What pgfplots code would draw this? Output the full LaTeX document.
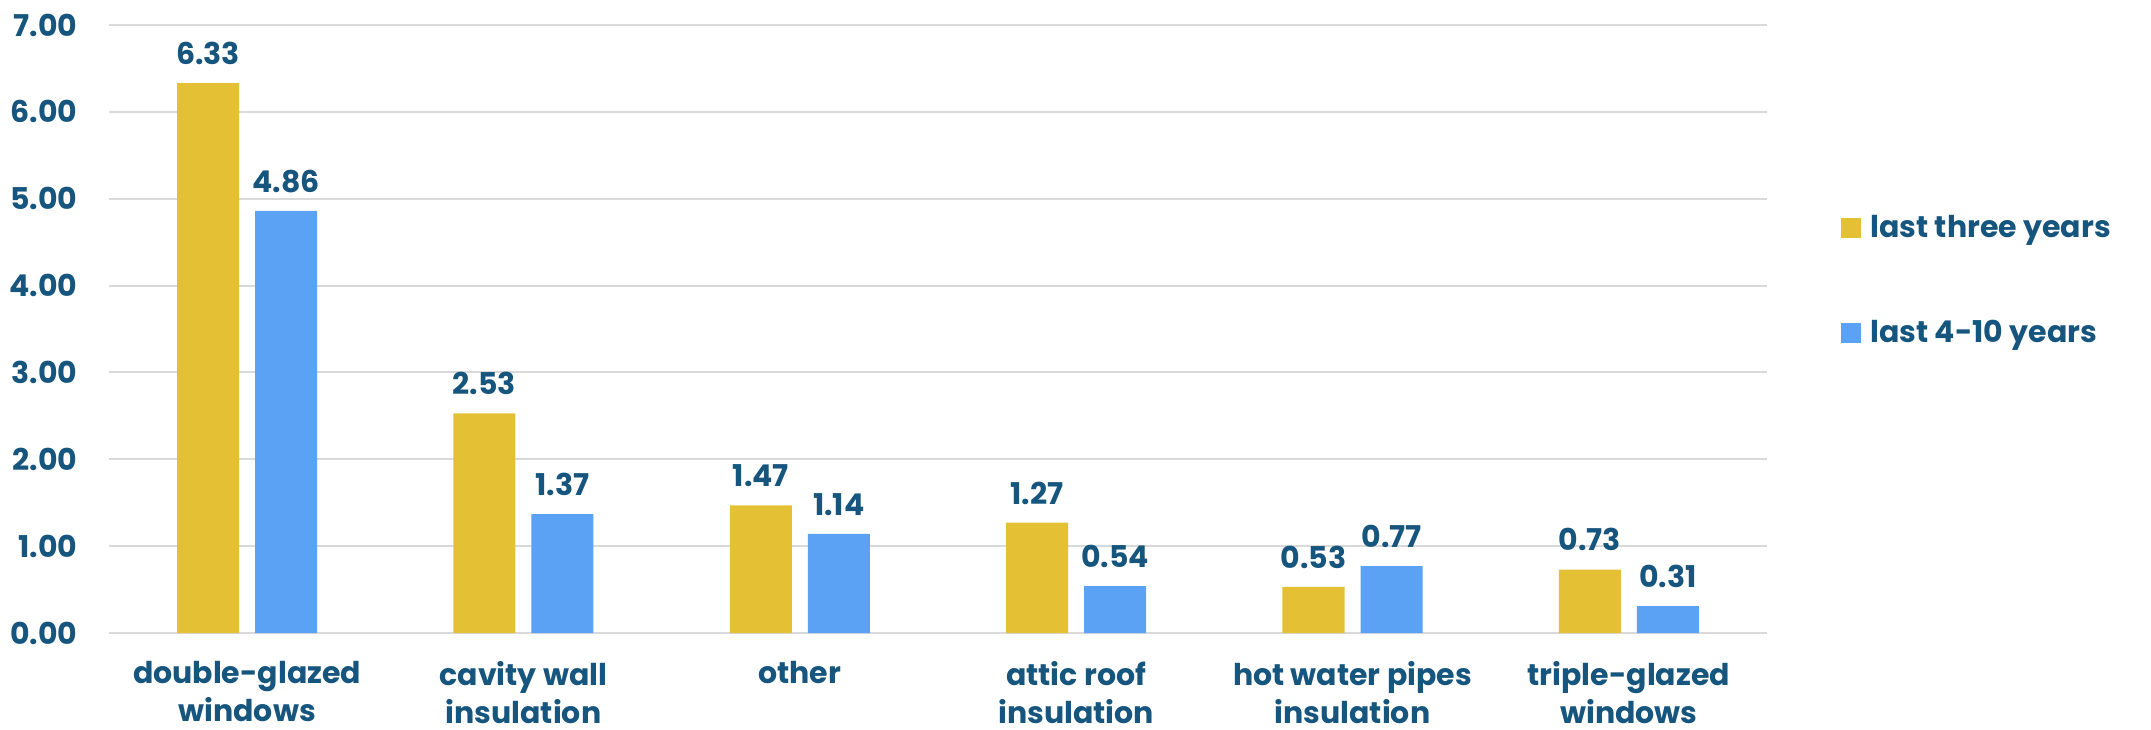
\documentclass[border=0pt]{standalone}
\usepackage{fontspec}
\setmainfont{Poppins}
\usepackage{pgfplots}
\pgfplotsset{compat=1.18}
\definecolor{ylw}{HTML}{E4C034}
\definecolor{blu}{HTML}{5BA1F4}
\definecolor{txt}{HTML}{16557D}
\definecolor{grd}{HTML}{D9D9D9}
\begin{document}
\begin{tikzpicture}
\begin{axis}[
 scale only axis, width=829pt, height=304pt,
 ymin=0, ymax=7, xmin=-0.5, xmax=5.5,
 ybar=8pt, bar width=31pt,
 axis line style={draw=none},
 major tick length=0pt,
 ytick={0,1,...,7},
 ymajorgrids, grid style={grd, line width=1pt},
 xtick={0,1,2,3,4,5},
 xticklabels={{double-glazed\\windows},{cavity wall\\insulation},{other},{attic roof\\insulation},{hot water pipes\\insulation},{triple-glazed\\windows}},
 xticklabel style={align=center, font=\fontsize{15}{19}\selectfont\bfseries, text=txt, inner sep=0pt, anchor=north, yshift=-14pt},
 yticklabel style={font=\fontsize{15}{19}\selectfont\bfseries, text=txt, inner sep=0pt, anchor=east, xshift=-15.5pt},
 yticklabel={\pgfmathprintnumber[fixed,fixed zerofill,precision=2,assume math mode=true]{\tick}},
 nodes near coords={\pgfmathprintnumber[fixed,fixed zerofill,precision=2,assume math mode=true]{\pgfplotspointmeta}},
 nodes near coords style={font=\fontsize{15}{19}\selectfont\bfseries, text=txt, inner sep=0pt, anchor=south, yshift=9pt},
 legend image code/.code={\fill[#1] (0pt,-5pt) rectangle (10pt,5pt);},
 legend style={at={(rel axis cs:1.0446,0.58)}, anchor=west, draw=none, fill=none, inner sep=0pt,
   row sep=40pt, font=\fontsize{15}{19}\selectfont\bfseries, text=txt,
   nodes={inner sep=0pt}},
 legend cell align=left,
 clip=false,
]
\addplot[fill=ylw, draw=none] coordinates {(0,6.33) (1,2.53) (2,1.47) (3,1.27) (4,0.53) (5,0.73)};
\addlegendentry{\hspace{4.5pt}last three years}
\addplot[fill=blu, draw=none] coordinates {(0,4.86) (1,1.37) (2,1.14) (3,0.54) (4,0.77) (5,0.31)};
\addlegendentry{\hspace{4.5pt}last 4-10 years}
\coordinate (bl) at (rel axis cs:-0.0657,-0.1579);
\coordinate (tr) at (rel axis cs:1.2316,1.0411);
\end{axis}
\pgfresetboundingbox
\path[use as bounding box] (bl) rectangle (tr);
\end{tikzpicture}
\end{document}
